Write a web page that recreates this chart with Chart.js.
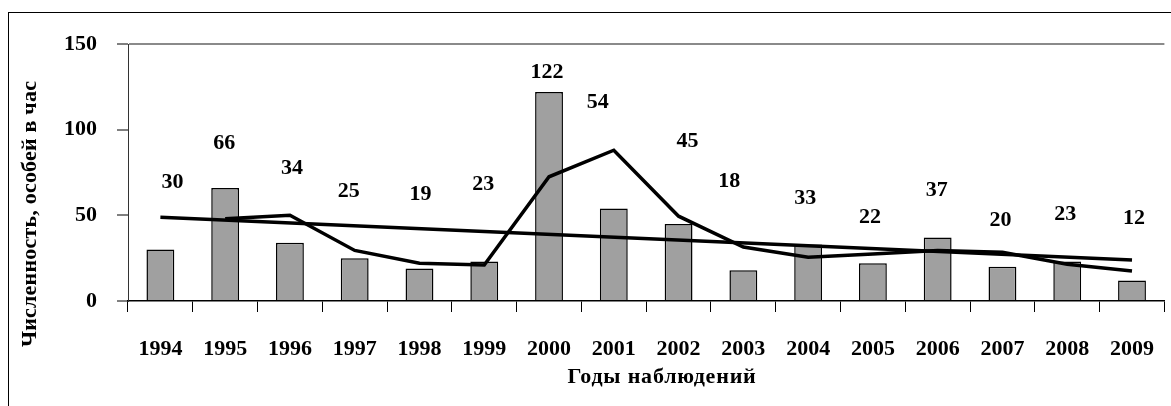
<!DOCTYPE html>
<html><head><meta charset="utf-8">
<script src="https://cdn.jsdelivr.net/npm/chart.js@4.4.0/dist/chart.umd.min.js"></script>
<style>
html,body{margin:0;padding:0;background:#fff;overflow:hidden;width:1171px;height:406px;}
#frame{position:absolute;left:8px;top:12px;width:1300px;height:600px;border-left:1px solid #000;border-top:1px solid #000;}
#wrap{position:absolute;left:0;top:0;width:1178px;height:406px;}
</style></head><body>
<div id="frame"></div>
<div id="wrap"><canvas id="c" width="1178" height="406"></canvas></div>
<script>
// ---- data ----
const years = ['1994','1995','1996','1997','1998','1999','2000','2001','2002','2003','2004','2005','2006','2007','2008','2009'];
const counts = [30, 66, 34, 25, 19, 23, 122, 54, 45, 18, 33, 22, 37, 20, 23, 12];
const movingAvg = [null, 48, 50, 29.5, 22, 21, 72.5, 88, 49.5, 31.5, 25.5, 27.5, 29.5, 28.5, 21.5, 17.5];
const trend = [48.9, null, null, null, null, null, null, null, null, null, null, null, null, null, null, 24.0];
const yTickValues = [0, 50, 100, 150];
const yTitle = 'Численность, особей в час';
const xTitle = 'Годы наблюдений';

// label placement (value level, horizontal shift) – presentation only
const labelLevel = [69, 92, 77.6, 64.2, 62.5, 68.3, 133.7, 116.2, 93.4, 70, 60.1, 49, 64.8, 47.3, 50.8, 48.4];
const labelShift = [12, -1, 2, -6, 1, -1, -2, -16, 9, -14, -3, -3, -1, -2, -2, 2];

const FONT = '"Liberation Serif", "Times New Roman", serif';

const annot = {
  id: 'annot',
  afterDatasetsDraw(chart) {
    const ctx = chart.ctx, xs = chart.scales.x, ys = chart.scales.y;
    ctx.save();
    ctx.fillStyle = '#000';
    ctx.font = 'bold 22px ' + FONT;
    ctx.textAlign = 'center';
    ctx.textBaseline = 'middle';
    counts.forEach((v, i) => {
      const x = xs.getPixelForValue(i) + labelShift[i];
      const y = ys.getPixelForValue(labelLevel[i]);
      ctx.fillText(String(v), x, y);
    });
    // x title
    ctx.font = 'bold 22px ' + FONT;
    ctx.letterSpacing = '0.8px';
    ctx.fillText(xTitle, 662, 377);
    // y title
    ctx.letterSpacing = '0.2px';
    ctx.translate(30, 214);
    ctx.rotate(-Math.PI / 2);
    ctx.fillText(yTitle, 0, 0);
    ctx.restore();
  }
};

new Chart(document.getElementById('c'), {
  type: 'bar',
  data: {
    labels: years,
    datasets: [
      { type: 'line', data: movingAvg, borderColor: '#000', borderWidth: 3.5, pointRadius: 0, tension: 0, fill: false, order: 1 },
      { type: 'line', data: trend, borderColor: '#000', borderWidth: 3.5, pointRadius: 0, tension: 0, fill: false, spanGaps: true, order: 2 },
      { type: 'bar', data: counts, backgroundColor: '#a0a0a0', borderColor: '#000', borderWidth: 1.5, barPercentage: 0.43, categoryPercentage: 1, order: 3 }
    ]
  },
  options: {
    responsive: false,
    animation: false,
    devicePixelRatio: 1,
    layout: { padding: { top: 44, left: 0, right: 0, bottom: 0 } },
    plugins: { legend: { display: false }, tooltip: { enabled: false } },
    scales: {
      x: {
        offset: true,
        grid: { offset: true, drawOnChartArea: false, drawTicks: true, tickLength: 11, color: '#000', lineWidth: 1 },
        border: { color: '#000', width: 1.5 },
        ticks: { color: '#000', font: { family: FONT, size: 22, weight: 'bold' }, padding: 24, maxRotation: 0, autoSkip: false },
        afterFit(s) { s.height = 105; }
      },
      y: {
        min: 0, max: 150,
        afterBuildTicks(s) { s.ticks = yTickValues.map(v => ({ value: v })); },
        grid: {
          color: c => (c.tick && c.tick.value === 150) ? '#8a8a8a' : 'rgba(0,0,0,0)',
          lineWidth: 2,
          tickColor: '#000', tickWidth: 1, tickLength: 11, drawTicks: true
        },
        border: { color: '#333', width: 1 },
        ticks: { color: '#000', font: { family: FONT, size: 22, weight: 'bold' }, padding: 20 },
        afterFit(s) { s.width = 128; }
      }
    }
  },
  plugins: [annot]
});
</script>
</body></html>
